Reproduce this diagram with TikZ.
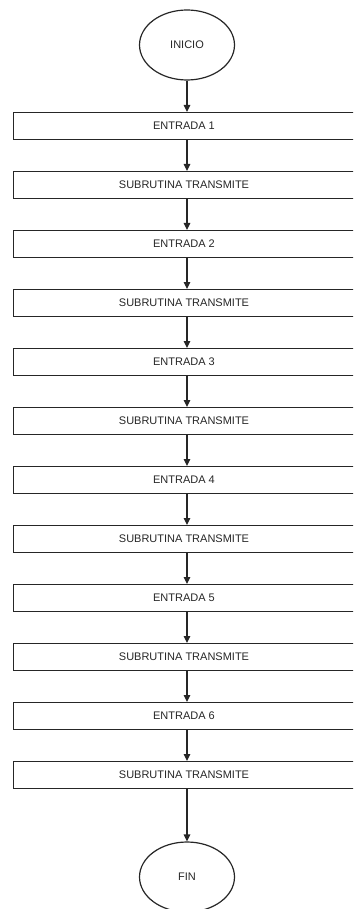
\documentclass[tikz,border=0pt]{standalone}
\usepackage{fontspec}
\setmainfont{Liberation Sans}
\usetikzlibrary{shapes.geometric,arrows.meta}
\begin{document}
\begin{tikzpicture}[x=1pt,y=-1pt,
  lbl/.style={font=\fontsize{11}{13}\selectfont, text=black!85},
  box/.style={draw=black!85, line width=1.4pt, minimum width=352pt, minimum height=27pt, inner sep=0pt, anchor=north west},
  term/.style={draw=black!85, line width=1.2pt, ellipse, minimum width=95pt, minimum height=70pt, inner sep=0pt},
  arr/.style={draw=black!85, line width=1.2pt, -{Triangle[length=7pt,width=6.5pt]}}]
\useasboundingbox (0,0) rectangle (353,909);
\clip (0,0) rectangle (353,909);
\node[term,lbl] (ini) at (187,45) {INICIO};
\foreach \i/\t in {1/ENTRADA 1,2/SUBRUTINA TRANSMITE,3/ENTRADA 2,4/SUBRUTINA TRANSMITE,5/ENTRADA 3,6/SUBRUTINA TRANSMITE,7/ENTRADA 4,8/SUBRUTINA TRANSMITE,9/ENTRADA 5,10/SUBRUTINA TRANSMITE,11/ENTRADA 6,12/SUBRUTINA TRANSMITE}{
  \node[box] (b\i) at (13,{112+59*(\i-1)}) {};
  \node[lbl] (t\i) at (184,{125.5+59*(\i-1)}) {\t};
}
\node[term,lbl] (fin) at (187,877) {FIN};
\draw[arr] (ini.south) -- (ini.south |- b1.north);
\foreach \i [evaluate=\i as \j using int(\i+1)] in {1,...,11}{
  \draw[arr] (ini.south |- b\i.south) -- (ini.south |- b\j.north);
}
\draw[arr] (ini.south |- b12.south) -- (fin.north);
\end{tikzpicture}
\end{document}
